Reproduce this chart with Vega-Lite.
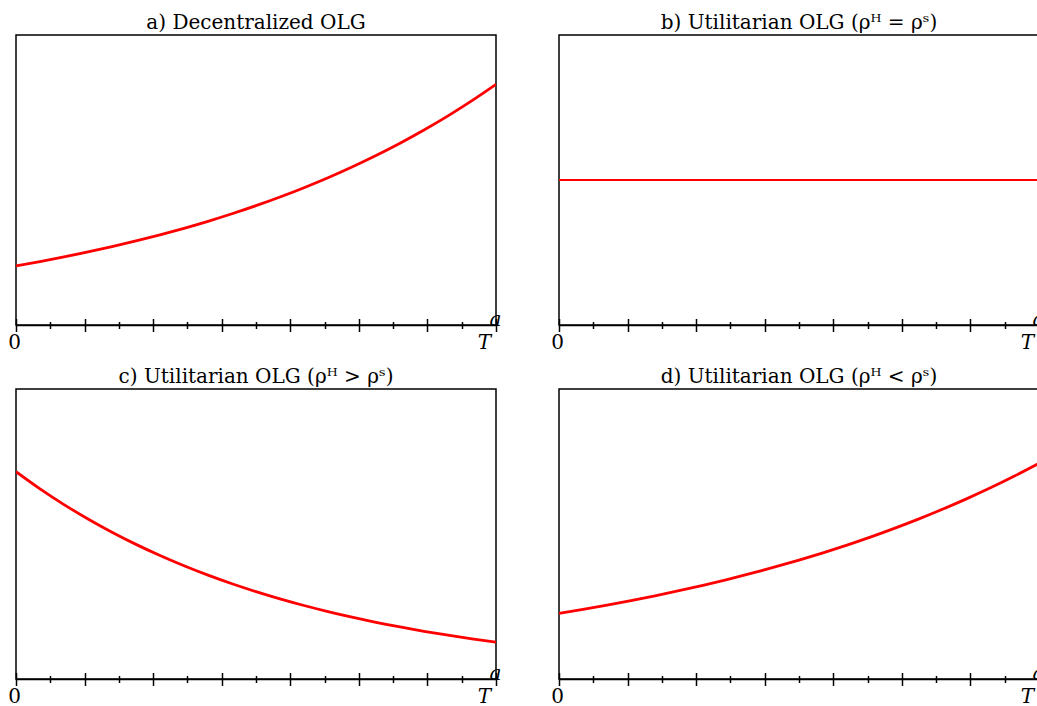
{
  "$schema": "https://vega.github.io/schema/vega-lite/v6.json",
  "padding": {"left": 6, "top": 12, "right": 0, "bottom": 0},
  "background": "white",
  "columns": 2,
  "spacing": {"row": 64, "column": 63},
  "bounds": "flush",
  "datasets": {
    "a": [
      {"t": 0, "v": 0.204}, {"t": 0.05, "v": 0.2188}, {"t": 0.1, "v": 0.2347}, {"t": 0.15, "v": 0.2518},
      {"t": 0.2, "v": 0.2701}, {"t": 0.25, "v": 0.2897}, {"t": 0.3, "v": 0.3108}, {"t": 0.35, "v": 0.3334},
      {"t": 0.4, "v": 0.3576}, {"t": 0.45, "v": 0.3836}, {"t": 0.5, "v": 0.4114}, {"t": 0.55, "v": 0.4413},
      {"t": 0.6, "v": 0.4734}, {"t": 0.65, "v": 0.5078}, {"t": 0.7, "v": 0.5447}, {"t": 0.75, "v": 0.5843},
      {"t": 0.8, "v": 0.6267}, {"t": 0.85, "v": 0.6723}, {"t": 0.9, "v": 0.7211}, {"t": 0.95, "v": 0.7736},
      {"t": 1, "v": 0.8298}
    ],
    "b": [
      {"t": 0, "v": 0.5}, {"t": 0.25, "v": 0.5}, {"t": 0.5, "v": 0.5}, {"t": 0.75, "v": 0.5}, {"t": 1, "v": 0.5}
    ],
    "c": [
      {"t": 0, "v": 0.715}, {"t": 0.05, "v": 0.6558}, {"t": 0.1, "v": 0.6015}, {"t": 0.15, "v": 0.5518},
      {"t": 0.2, "v": 0.5061}, {"t": 0.25, "v": 0.4642}, {"t": 0.3, "v": 0.4258}, {"t": 0.35, "v": 0.3905},
      {"t": 0.4, "v": 0.3582}, {"t": 0.45, "v": 0.3286}, {"t": 0.5, "v": 0.3014}, {"t": 0.55, "v": 0.2764},
      {"t": 0.6, "v": 0.2535}, {"t": 0.65, "v": 0.2325}, {"t": 0.7, "v": 0.2133}, {"t": 0.75, "v": 0.1956},
      {"t": 0.8, "v": 0.1795}, {"t": 0.85, "v": 0.1646}, {"t": 0.9, "v": 0.151}, {"t": 0.95, "v": 0.1385},
      {"t": 1, "v": 0.127}
    ],
    "d": [
      {"t": 0, "v": 0.226}, {"t": 0.05, "v": 0.2399}, {"t": 0.1, "v": 0.2546}, {"t": 0.15, "v": 0.2702},
      {"t": 0.2, "v": 0.2868}, {"t": 0.25, "v": 0.3044}, {"t": 0.3, "v": 0.3231}, {"t": 0.35, "v": 0.3429},
      {"t": 0.4, "v": 0.3639}, {"t": 0.45, "v": 0.3863}, {"t": 0.5, "v": 0.4099}, {"t": 0.55, "v": 0.4351},
      {"t": 0.6, "v": 0.4618}, {"t": 0.65, "v": 0.4901}, {"t": 0.7, "v": 0.5202}, {"t": 0.75, "v": 0.5521},
      {"t": 0.8, "v": 0.586}, {"t": 0.85, "v": 0.622}, {"t": 0.9, "v": 0.6601}, {"t": 0.95, "v": 0.7007},
      {"t": 1, "v": 0.7436}
    ]
  },
  "concat": [
    {
      "title": {"text": "a) Decentralized OLG"},
      "width": 480, "height": 290,
      "data": {"name": "a"},
      "layer": [
        {
          "mark": {"type": "line", "color": "red", "strokeWidth": 2.8, "interpolate": "monotone", "clip": true},
          "encoding": {
            "x": {"field": "t", "type": "quantitative", "scale": {"domain": [0, 1], "nice": false, "zero": false},
              "axis": {"orient": "bottom", "values": [0, 0.071429, 0.142857, 0.214286, 0.285714, 0.357143, 0.428571, 0.5, 0.571429, 0.642857, 0.714286, 0.785714, 0.857143, 0.928571, 1],
                "labelExpr": "datum.value == 0 ? '0' : (datum.value == 1 ? 'T' : '')",
                "labelFontStyle": {"condition": {"test": "datum.value == 1", "value": "italic"}, "value": "normal"},
                "labelOffset": {"condition": {"test": "datum.value == 1", "value": -12}, "value": -2},
                "labelPadding": 0.5, "labelOverlap": false, "labelFlush": false,
                "tickSize": {"condition": {"test": "round(datum.value*14) % 2 == 0", "value": 6.5}, "value": 3.5},
                "title": "a", "titleFontStyle": "italic", "titleX": 479, "titleY": 0, "titleAlign": "center", "titleBaseline": "alphabetic", "titleAnchor": null}},
            "y": {"field": "v", "type": "quantitative", "scale": {"domain": [0, 1], "nice": false}, "axis": null}
          }
        },
        {
          "mark": {"type": "line", "opacity": 0},
          "encoding": {
            "x": {"field": "t", "type": "quantitative",
              "axis": {"orient": "bottom", "values": [0, 0.071429, 0.142857, 0.214286, 0.285714, 0.357143, 0.428571, 0.5, 0.571429, 0.642857, 0.714286, 0.785714, 0.857143, 0.928571, 1],
                "domain": false, "labels": false, "title": null,
                "tickSize": {"condition": {"test": "round(datum.value*14) % 2 == 0", "value": -6.5}, "value": -3.5}}},
            "y": {"field": "v", "type": "quantitative", "axis": null}
          }
        }
      ],
      "resolve": {"axis": {"x": "independent"}}
    },
    {
      "title": {"text": "b) Utilitarian OLG (ρᴴ = ρˢ)"},
      "width": 480, "height": 290,
      "data": {"name": "b"},
      "layer": [
        {
          "mark": {"type": "line", "color": "red", "strokeWidth": 2, "clip": true},
          "encoding": {
            "x": {"field": "t", "type": "quantitative", "scale": {"domain": [0, 1], "nice": false, "zero": false},
              "axis": {"orient": "bottom", "values": [0, 0.071429, 0.142857, 0.214286, 0.285714, 0.357143, 0.428571, 0.5, 0.571429, 0.642857, 0.714286, 0.785714, 0.857143, 0.928571, 1],
                "labelExpr": "datum.value == 0 ? '0' : (datum.value == 1 ? 'T' : '')",
                "labelFontStyle": {"condition": {"test": "datum.value == 1", "value": "italic"}, "value": "normal"},
                "labelOffset": {"condition": {"test": "datum.value == 1", "value": -12}, "value": -2},
                "labelPadding": 0.5, "labelOverlap": false, "labelFlush": false,
                "tickSize": {"condition": {"test": "round(datum.value*14) % 2 == 0", "value": 6.5}, "value": 3.5},
                "title": "a", "titleFontStyle": "italic", "titleX": 479, "titleY": 0, "titleAlign": "center", "titleBaseline": "alphabetic", "titleAnchor": null}},
            "y": {"field": "v", "type": "quantitative", "scale": {"domain": [0, 1], "nice": false}, "axis": null}
          }
        },
        {
          "mark": {"type": "line", "opacity": 0},
          "encoding": {
            "x": {"field": "t", "type": "quantitative",
              "axis": {"orient": "bottom", "values": [0, 0.071429, 0.142857, 0.214286, 0.285714, 0.357143, 0.428571, 0.5, 0.571429, 0.642857, 0.714286, 0.785714, 0.857143, 0.928571, 1],
                "domain": false, "labels": false, "title": null,
                "tickSize": {"condition": {"test": "round(datum.value*14) % 2 == 0", "value": -6.5}, "value": -3.5}}},
            "y": {"field": "v", "type": "quantitative", "axis": null}
          }
        }
      ],
      "resolve": {"axis": {"x": "independent"}}
    },
    {
      "title": {"text": "c) Utilitarian OLG (ρᴴ > ρˢ)"},
      "width": 480, "height": 290,
      "data": {"name": "c"},
      "layer": [
        {
          "mark": {"type": "line", "color": "red", "strokeWidth": 2.8, "interpolate": "monotone", "clip": true},
          "encoding": {
            "x": {"field": "t", "type": "quantitative", "scale": {"domain": [0, 1], "nice": false, "zero": false},
              "axis": {"orient": "bottom", "values": [0, 0.071429, 0.142857, 0.214286, 0.285714, 0.357143, 0.428571, 0.5, 0.571429, 0.642857, 0.714286, 0.785714, 0.857143, 0.928571, 1],
                "labelExpr": "datum.value == 0 ? '0' : (datum.value == 1 ? 'T' : '')",
                "labelFontStyle": {"condition": {"test": "datum.value == 1", "value": "italic"}, "value": "normal"},
                "labelOffset": {"condition": {"test": "datum.value == 1", "value": -12}, "value": -2},
                "labelPadding": 0.5, "labelOverlap": false, "labelFlush": false,
                "tickSize": {"condition": {"test": "round(datum.value*14) % 2 == 0", "value": 6.5}, "value": 3.5},
                "title": "a", "titleFontStyle": "italic", "titleX": 479, "titleY": 0, "titleAlign": "center", "titleBaseline": "alphabetic", "titleAnchor": null}},
            "y": {"field": "v", "type": "quantitative", "scale": {"domain": [0, 1], "nice": false}, "axis": null}
          }
        },
        {
          "mark": {"type": "line", "opacity": 0},
          "encoding": {
            "x": {"field": "t", "type": "quantitative",
              "axis": {"orient": "bottom", "values": [0, 0.071429, 0.142857, 0.214286, 0.285714, 0.357143, 0.428571, 0.5, 0.571429, 0.642857, 0.714286, 0.785714, 0.857143, 0.928571, 1],
                "domain": false, "labels": false, "title": null,
                "tickSize": {"condition": {"test": "round(datum.value*14) % 2 == 0", "value": -6.5}, "value": -3.5}}},
            "y": {"field": "v", "type": "quantitative", "axis": null}
          }
        }
      ],
      "resolve": {"axis": {"x": "independent"}}
    },
    {
      "title": {"text": "d) Utilitarian OLG (ρᴴ < ρˢ)"},
      "width": 480, "height": 290,
      "data": {"name": "d"},
      "layer": [
        {
          "mark": {"type": "line", "color": "red", "strokeWidth": 2.8, "interpolate": "monotone", "clip": true},
          "encoding": {
            "x": {"field": "t", "type": "quantitative", "scale": {"domain": [0, 1], "nice": false, "zero": false},
              "axis": {"orient": "bottom", "values": [0, 0.071429, 0.142857, 0.214286, 0.285714, 0.357143, 0.428571, 0.5, 0.571429, 0.642857, 0.714286, 0.785714, 0.857143, 0.928571, 1],
                "labelExpr": "datum.value == 0 ? '0' : (datum.value == 1 ? 'T' : '')",
                "labelFontStyle": {"condition": {"test": "datum.value == 1", "value": "italic"}, "value": "normal"},
                "labelOffset": {"condition": {"test": "datum.value == 1", "value": -12}, "value": -2},
                "labelPadding": 0.5, "labelOverlap": false, "labelFlush": false,
                "tickSize": {"condition": {"test": "round(datum.value*14) % 2 == 0", "value": 6.5}, "value": 3.5},
                "title": "a", "titleFontStyle": "italic", "titleX": 479, "titleY": 0, "titleAlign": "center", "titleBaseline": "alphabetic", "titleAnchor": null}},
            "y": {"field": "v", "type": "quantitative", "scale": {"domain": [0, 1], "nice": false}, "axis": null}
          }
        },
        {
          "mark": {"type": "line", "opacity": 0},
          "encoding": {
            "x": {"field": "t", "type": "quantitative",
              "axis": {"orient": "bottom", "values": [0, 0.071429, 0.142857, 0.214286, 0.285714, 0.357143, 0.428571, 0.5, 0.571429, 0.642857, 0.714286, 0.785714, 0.857143, 0.928571, 1],
                "domain": false, "labels": false, "title": null,
                "tickSize": {"condition": {"test": "round(datum.value*14) % 2 == 0", "value": -6.5}, "value": -3.5}}},
            "y": {"field": "v", "type": "quantitative", "axis": null}
          }
        }
      ],
      "resolve": {"axis": {"x": "independent"}}
    }
  ],
  "config": {
    "view": {"stroke": "black", "strokeWidth": 1.5},
    "axis": {"domainColor": "black", "domainWidth": 1.5, "tickColor": "black", "tickWidth": 1.5, "labelFont": "DejaVu Serif", "labelFontSize": 20, "labelColor": "black", "grid": false, "titleFont": "DejaVu Serif", "titleFontSize": 20, "titleColor": "black", "titleFontWeight": "normal"},
    "title": {"font": "DejaVu Serif", "fontSize": 20, "fontWeight": "normal", "color": "black", "offset": 2, "baseline": "alphabetic"}
  }
}
